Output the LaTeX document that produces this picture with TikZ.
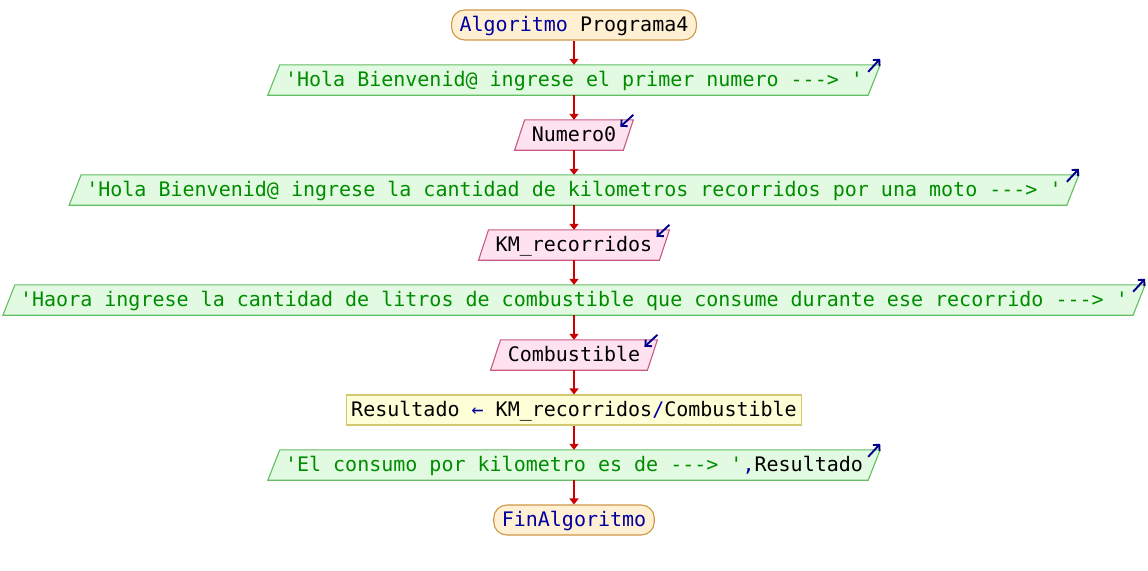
\documentclass[tikz,border=0pt]{standalone}
\usepackage{fontspec}
\setmonofont{DejaVu Sans Mono}
\usetikzlibrary{arrows.meta,backgrounds}
\definecolor{termfill}{RGB}{255,240,212}
\definecolor{termdraw}{RGB}{208,150,70}
\definecolor{outfill}{RGB}{226,250,226}
\definecolor{outdraw}{RGB}{100,190,100}
\definecolor{outtext}{RGB}{0,140,0}
\definecolor{infill}{RGB}{255,226,240}
\definecolor{indraw}{RGB}{200,90,130}
\definecolor{procfill}{RGB}{255,255,215}
\definecolor{procdraw}{RGB}{210,200,110}
\definecolor{kw}{RGB}{0,0,160}
\definecolor{conncol}{RGB}{204,0,0}
\definecolor{iocol}{RGB}{0,0,140}
\newcommand{\kwd}[1]{\textcolor{kw}{#1}}
\begin{document}
\begin{tikzpicture}[x=1pt,y=-1pt,
  every node/.style={font=\fontsize{20}{24}\selectfont\ttfamily, inner ysep=0pt,
    minimum height=30pt, text height=16pt, text depth=4pt},
  term/.style={draw=termdraw, fill=termfill, line width=1.1pt, rounded corners=13pt, inner xsep=8pt},
  outn/.style={text=outtext, inner xsep=11pt},
  inn/.style={text=black, inner xsep=12pt},
  proc/.style={draw=procdraw, fill=procfill, line width=1.1pt, inner xsep=5pt},
  outframe/.style={draw=outdraw, fill=outfill, line width=1.1pt},
  inframe/.style={draw=indraw, fill=infill, line width=1.1pt},
  conn/.style={draw=conncol, line width=1.8pt, -{Triangle[length=6pt,width=9pt]}},
  ioarrow/.style={draw=iocol, line width=1.9pt, -{Straight Barb[length=4.5pt,width=9pt]}}
]
\useasboundingbox (0,0) rectangle (1148,570);
\node[term] (s) at (574,25) {\kwd{Algoritmo} Programa4};
\node[outn] (o1) at (574,80) {'Hola Bienvenid@ ingrese el primer numero ---> '};
\node[inn] (i1) at (574,135) {Numero0};
\node[outn] (o2) at (574,190) {'Hola Bienvenid@ ingrese la cantidad de kilometros recorridos por una moto ---> '};
\node[inn] (i2) at (574,245) {KM\_recorridos};
\node[outn] (o3) at (574,300) {'Haora ingrese la cantidad de litros de combustible que consume durante ese recorrido ---> '};
\node[inn] (i3) at (574,355) {Combustible};
\node[proc] (p) at (574,410) {Resultado \kwd{←} KM\_recorridos\kwd{/}Combustible};
\node[outn] (o4) at (574,465) {'El consumo por kilometro es de ---> '\kwd{,}\textcolor{black}{Resultado}};
\node[term] (e) at (574,520) {\kwd{FinAlgoritmo}};
\begin{scope}[on background layer]
\foreach \n in {o1,o2,o3,o4}{
  \draw[outframe] ([xshift=6pt]\n.north west) -- ([xshift=6pt]\n.north east) -- ([xshift=-6pt]\n.south east) -- ([xshift=-6pt]\n.south west) -- cycle;
}
\foreach \n in {i1,i2,i3}{
  \draw[inframe] ([xshift=5pt]\n.north west) -- ([xshift=5pt]\n.north east) -- ([xshift=-5pt]\n.south east) -- ([xshift=-5pt]\n.south west) -- cycle;
}
\end{scope}
\foreach \n in {o1,o2,o3,o4}{
  \draw[ioarrow] ([xshift=-6pt,yshift=-7pt]\n.north east) -- ([xshift=6pt,yshift=6pt]\n.north east);
}
\foreach \n in {i1,i2,i3}{
  \draw[ioarrow] ([xshift=5pt,yshift=5pt]\n.north east) -- ([xshift=-8pt,yshift=-7pt]\n.north east);
}
\foreach \a/\b in {s/o1,o1/i1,i1/o2,o2/i2,i2/o3,o3/i3,i3/p,p/o4,o4/e}{
  \draw[conn] (\a.south) -- (\a.south |- \b.north);
}
\end{tikzpicture}
\end{document}
